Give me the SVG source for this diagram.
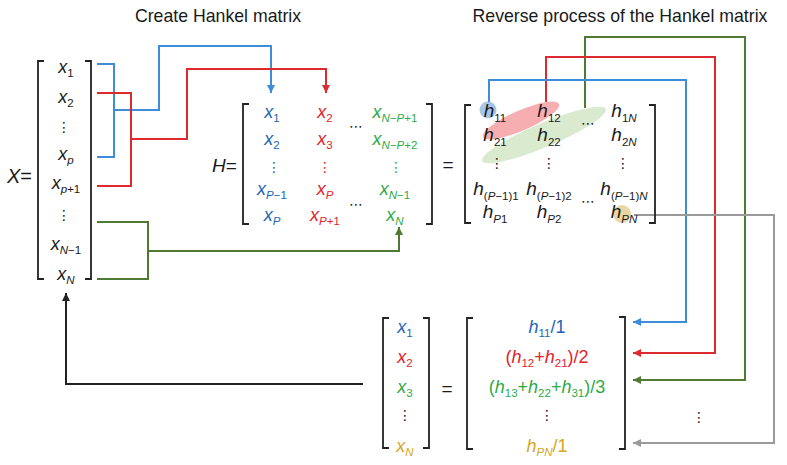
<svg xmlns="http://www.w3.org/2000/svg" width="787" height="465" viewBox="0 0 787 465">
<style>
text{font-family:"Liberation Sans",Arial,sans-serif;fill:#1a1a1a}
.t{font-size:17.7px;text-anchor:middle}
.m{font-size:18px;font-style:italic;text-anchor:middle}
.h{font-size:19px;font-style:italic;text-anchor:middle}
.s{font-size:11.5px;font-style:normal}
.si{font-size:11.5px;font-style:italic}
.d{font-family:"DejaVu Sans",sans-serif;font-size:14px;text-anchor:middle;font-style:normal}
.br{fill:none;stroke:#222;stroke-width:1.8}
.cb{fill:#1e66b5}.cr{fill:#e2222a}.cg{fill:#2eaa47}.cy{fill:#d6a521}
.ln{fill:none;stroke-width:2}
</style>
<defs>
<marker id="ab" viewBox="0 0 8 8" refX="8" refY="4" markerWidth="8" markerHeight="8" markerUnits="userSpaceOnUse" orient="auto"><path d="M0,0 L8,4 L0,8 z" fill="#3d8ddb"/></marker>
<marker id="ar" viewBox="0 0 8 8" refX="8" refY="4" markerWidth="8" markerHeight="8" markerUnits="userSpaceOnUse" orient="auto"><path d="M0,0 L8,4 L0,8 z" fill="#dc2a2e"/></marker>
<marker id="ag" viewBox="0 0 8 8" refX="8" refY="4" markerWidth="8" markerHeight="8" markerUnits="userSpaceOnUse" orient="auto"><path d="M0,0 L8,4 L0,8 z" fill="#4e7a33"/></marker>
<marker id="ay" viewBox="0 0 8 8" refX="8" refY="4" markerWidth="8" markerHeight="8" markerUnits="userSpaceOnUse" orient="auto"><path d="M0,0 L8,4 L0,8 z" fill="#9a9a9a"/></marker>
<marker id="ak" viewBox="0 0 8 8" refX="8" refY="4" markerWidth="8" markerHeight="8" markerUnits="userSpaceOnUse" orient="auto"><path d="M0,0 L8,4 L0,8 z" fill="#222"/></marker>
</defs>
<rect width="787" height="465" fill="#fff"/>

<g id="titles">
<text class="t" x="218" y="22">Create Hankel matrix</text>
<text class="t" x="620" y="22">Reverse process of the Hankel matrix</text>
</g>

<g id="highlights">
<ellipse cx="544" cy="135" rx="67" ry="12" transform="rotate(-22.8 544 135)" fill="#d9eacf"/>
<ellipse cx="521" cy="120.5" rx="41.5" ry="10" transform="rotate(-23.5 521 120.5)" fill="#f6a5a8" fill-opacity="0.9"/>
<circle cx="488" cy="110" r="8.5" fill="#a9c5e8"/>
<circle cx="622" cy="214" r="9" fill="#e9d6a3"/>
</g>

<g id="connectors">
<path class="ln" stroke="#3d8ddb" d="M97,64 H114 V157 H97"/>
<path class="ln" stroke="#3d8ddb" d="M114,110 H159 V46 H271 V93" marker-end="url(#ab)"/>
<path class="ln" stroke="#dc2a2e" d="M97,93 H131 V186 H97"/>
<path class="ln" stroke="#dc2a2e" d="M131,139 H187 V69 H326 V93" marker-end="url(#ar)"/>
<path class="ln" stroke="#4e7a33" d="M97,222 H148 V279 H97"/>
<path class="ln" stroke="#4e7a33" d="M148,251 H399 V227" marker-end="url(#ag)"/>
<path class="ln" stroke="#4e7a33" d="M585,108 V37 H745 V380 H633" marker-end="url(#ag)"/>
<path class="ln" stroke="#dc2a2e" d="M546,102 V57 H715 V353 H633" marker-end="url(#ar)"/>
<path class="ln" stroke="#3d8ddb" d="M489,102 V80 H686 V322 H633" marker-end="url(#ab)"/>
<path class="ln" stroke="#9a9a9a" d="M634,215 H774 V443 H633" marker-end="url(#ay)"/>
<path class="ln" stroke="#222" d="M363,384 H66 V293" marker-end="url(#ak)"/>
</g>

<g id="vecX">
<text x="7" y="183" style="font-size:20px;font-style:italic">X<tspan style="font-style:normal">=</tspan></text>
<path class="br" d="M44,61 H38 V279 H44 M85,61 H91 V279 H85"/>
<text class="m" x="66" y="73">x<tspan class="s" dy="4">1</tspan></text>
<text class="m" x="66" y="103">x<tspan class="s" dy="4">2</tspan></text>
<text class="d" x="64" y="132">⋮</text>
<text class="m" x="66" y="160">x<tspan class="si" dy="4">p</tspan></text>
<text class="m" x="66" y="189">x<tspan class="si" dy="4">p</tspan><tspan class="s">+1</tspan></text>
<text class="d" x="64" y="220">⋮</text>
<text class="m" x="66" y="250">x<tspan class="si" dy="4">N</tspan><tspan class="s">−1</tspan></text>
<text class="m" x="66" y="280">x<tspan class="si" dy="4">N</tspan></text>
</g>

<g id="matH">
<text x="212" y="172" style="font-size:19px;font-style:italic">H<tspan style="font-style:normal">=</tspan></text>
<path class="br" d="M249,104 H243 V224 H249 M426,104 H432 V224 H426"/>
<text class="m cb" x="272" y="118">x<tspan class="s" dy="4">1</tspan></text>
<text class="m cb" x="272" y="145">x<tspan class="s" dy="4">2</tspan></text>
<text class="d cb" x="274" y="172">⋮</text>
<text class="m cb" x="272" y="195">x<tspan class="si" dy="4">P</tspan><tspan class="s">−1</tspan></text>
<text class="m cb" x="272" y="221">x<tspan class="si" dy="4">P</tspan></text>
<text class="m cr" x="325" y="118">x<tspan class="s" dy="4">2</tspan></text>
<text class="m cr" x="325" y="145">x<tspan class="s" dy="4">3</tspan></text>
<text class="d cr" x="325" y="172">⋮</text>
<text class="m cr" x="325" y="195">x<tspan class="si" dy="4">P</tspan></text>
<text class="m cr" x="325" y="221">x<tspan class="si" dy="4">P</tspan><tspan class="s">+1</tspan></text>
<text class="m cg" x="395" y="118">x<tspan class="si" dy="4">N</tspan><tspan class="s">−</tspan><tspan class="si">P</tspan><tspan class="s">+1</tspan></text>
<text class="m cg" x="395" y="145">x<tspan class="si" dy="4">N</tspan><tspan class="s">−</tspan><tspan class="si">P</tspan><tspan class="s">+2</tspan></text>
<text class="d cg" x="396" y="172">⋮</text>
<text class="m cg" x="395" y="195">x<tspan class="si" dy="4">N</tspan><tspan class="s">−1</tspan></text>
<text class="m cg" x="395" y="221">x<tspan class="si" dy="4">N</tspan></text>
<text class="d" x="356" y="131">⋯</text>
<text class="d" x="356" y="209">⋯</text>
<text x="448" y="171" style="font-size:19px;text-anchor:middle">=</text>
</g>

<g id="matHrev">
<path class="br" d="M471,105 H465 V223 H471 M649,105 H655 V223 H649"/>
<text class="h" x="495" y="117">h<tspan class="s" dy="5">11</tspan></text>
<text class="h" x="549" y="117">h<tspan class="s" dy="5">12</tspan></text>
<text class="h" x="624" y="117">h<tspan class="s" dy="5">1</tspan><tspan class="si">N</tspan></text>
<text class="h" x="495" y="141">h<tspan class="s" dy="5">21</tspan></text>
<text class="h" x="549" y="141">h<tspan class="s" dy="5">22</tspan></text>
<text class="h" x="624" y="141">h<tspan class="s" dy="5">2</tspan><tspan class="si">N</tspan></text>
<text class="d" x="497" y="168">⋮</text>
<text class="d" x="549" y="168">⋮</text>
<text class="d" x="623" y="168">⋮</text>
<text class="h" x="496" y="195">h<tspan class="s" dy="5">(</tspan><tspan class="si">P</tspan><tspan class="s">−1)1</tspan></text>
<text class="h" x="549" y="195">h<tspan class="s" dy="5">(</tspan><tspan class="si">P</tspan><tspan class="s">−1)2</tspan></text>
<text class="h" x="624" y="195">h<tspan class="s" dy="5">(</tspan><tspan class="si">P</tspan><tspan class="s">−1)</tspan><tspan class="si">N</tspan></text>
<text class="h" x="495" y="218">h<tspan class="si" dy="5">P</tspan><tspan class="s">1</tspan></text>
<text class="h" x="549" y="218">h<tspan class="si" dy="5">P</tspan><tspan class="s">2</tspan></text>
<text class="h" x="624" y="218">h<tspan class="si" dy="5">PN</tspan></text>
<text class="d" x="588" y="128">⋯</text>
<text class="d" x="588" y="206">⋯</text>
</g>

<g id="vecOut">
<path class="br" d="M389,318 H383 V448 H389 M423,318 H429 V448 H423"/>
<text class="m cb" x="405" y="333">x<tspan class="s" dy="4">1</tspan></text>
<text class="m cr" x="405" y="363">x<tspan class="s" dy="4">2</tspan></text>
<text class="m cg" x="405" y="393">x<tspan class="s" dy="4">3</tspan></text>
<text class="d" x="405" y="420">⋮</text>
<text class="m cy" x="405" y="452">x<tspan class="si" dy="4">N</tspan></text>
<text x="447" y="395" style="font-size:19px;text-anchor:middle">=</text>
</g>

<g id="matOut">
<path class="br" d="M473,318 H467 V449 H473 M619,317 H625 V449 H619"/>
<text class="m cb" x="547" y="333">h<tspan class="s" dy="4">11</tspan><tspan dy="-4" style="font-style:normal">/1</tspan></text>
<text class="m cr" x="547" y="363"><tspan style="font-style:normal">(</tspan>h<tspan class="s" dy="4">12</tspan><tspan dy="-4" style="font-style:normal">+</tspan>h<tspan class="s" dy="4">21</tspan><tspan dy="-4" style="font-style:normal">)/2</tspan></text>
<text class="m cg" x="547" y="393"><tspan style="font-style:normal">(</tspan>h<tspan class="s" dy="4">13</tspan><tspan dy="-4" style="font-style:normal">+</tspan>h<tspan class="s" dy="4">22</tspan><tspan dy="-4" style="font-style:normal">+</tspan>h<tspan class="s" dy="4">31</tspan><tspan dy="-4" style="font-style:normal">)/3</tspan></text>
<text class="d" x="547" y="420">⋮</text>
<text class="m cy" x="547" y="452">h<tspan class="si" dy="4">PN</tspan><tspan dy="-4" style="font-style:normal">/1</tspan></text>
<text class="d" x="699" y="422">⋮</text>
</g>
</svg>
